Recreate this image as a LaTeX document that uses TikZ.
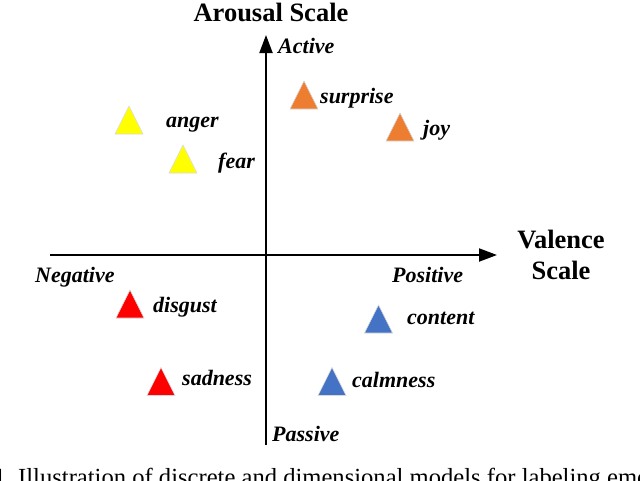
\documentclass[tikz,border=0pt]{standalone}
\usepackage{fontspec}
\setmainfont{Liberation Serif}
\usetikzlibrary{arrows.meta}
\definecolor{tyellow}{HTML}{FFFF00}
\definecolor{torange}{HTML}{ED7D31}
\definecolor{tred}{HTML}{FF0000}
\definecolor{tblue}{HTML}{4472C4}
\begin{document}
\begin{tikzpicture}[x=1pt,y=-1pt,
  axis/.style={line width=2pt,-{Triangle[length=18pt,width=13pt]}},
  emo/.style={draw=black!15,line width=0.6pt},
  lbl/.style={font=\fontsize{22}{22}\selectfont\bfseries\itshape,anchor=base west,inner sep=0pt},
  ttl/.style={font=\fontsize{26.5}{31}\selectfont\bfseries,inner sep=0pt},
  captext/.style={font=\fontsize{24.6}{24.6}\selectfont,anchor=base west,inner sep=0pt}]
\useasboundingbox (0,0) rectangle (640,480);
\coordinate (hl) at (50,255);
\coordinate (hr) at (497,255);
\coordinate (vb) at (266,445);
\coordinate (vt) at (266,35);
\draw[axis] (hl) -- (hr);
\draw[axis] (vb) -- (vt);
\node[ttl,anchor=base] (ar) at (271,21) {Arousal Scale};
\node[ttl,anchor=base,align=center] (va) at (561,279) {Valence\\Scale};
\node[lbl] (act) at (278,53) {Active};
\node[lbl] (neg) at (35,282) {Negative};
\node[lbl] (pos) at (392,282) {Positive};
\node[lbl] (pas) at (272,441) {Passive};
% triangles
\newcommand\emotri[3]{\path[emo,fill=#3] (#1,#2) ++(-14,14) -- ++(28,0) -- ++(-14,-28) -- cycle;}
\emotri{129}{120}{tyellow}
\emotri{183}{159}{tyellow}
\emotri{304}{95}{torange}
\emotri{400}{127}{torange}
\emotri{130}{304}{tred}
\emotri{161}{381.5}{tred}
\emotri{378.5}{319}{tblue}
\emotri{332}{381.5}{tblue}
\node[lbl] (anger) at (166,127) {anger};
\node[lbl] (fear) at (218,168) {fear};
\node[lbl] (surprise) at (320,103) {surprise};
\node[lbl] (joy) at (423,135) {joy};
\node[lbl] (disgust) at (153,312) {disgust};
\node[lbl] (sadness) at (182,385) {sadness};
\node[lbl] (content) at (407,324) {content};
\node[lbl] (calmness) at (352,387) {calmness};
\node[captext] (caption) at (18,485) {\llap{1.\ }Illustration of discrete and dimensional models for labeling emotions.};
\end{tikzpicture}
\end{document}
